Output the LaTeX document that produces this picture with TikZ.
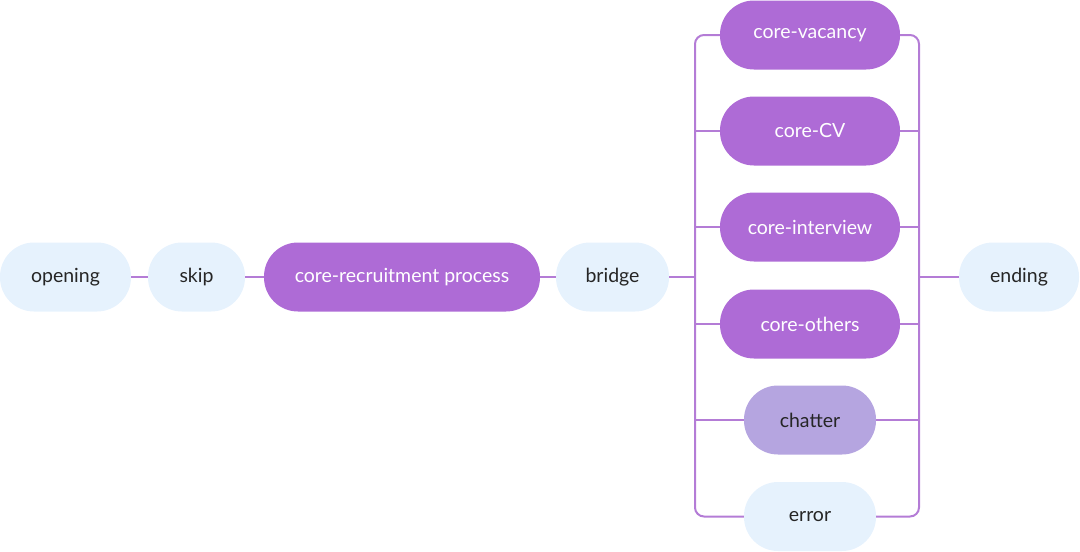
\documentclass[tikz,border=0pt]{standalone}
\usepackage{fontspec}
\setmainfont{Lato}
\definecolor{lightb}{HTML}{E6F2FD}
\definecolor{corep}{HTML}{AE6BD6}
\definecolor{chatc}{HTML}{B5A5E0}
\definecolor{linec}{HTML}{B47CD6}
\begin{document}
\begin{tikzpicture}[x=1pt,y=-1pt,
  pill/.style={rectangle,rounded corners=34pt,minimum height=69pt,inner sep=0pt,font=\fontsize{19.5}{23}\selectfont},
  lightpill/.style={pill,fill=lightb,text=black!85},
  corepill/.style={pill,fill=corep,text=white},
  chatpill/.style={pill,fill=chatc,text=black!85},
  conn/.style={draw=linec,line width=2pt}]
\useasboundingbox (0,0) rectangle (1080,552);
\node[lightpill,minimum width=131pt] (opening) at (65.5,277) {opening};
\node[lightpill,minimum width=97pt] (skip) at (196.5,277) {skip};
\node[corepill,minimum width=276pt] (recruit) at (402,277) {core-recruitment process};
\node[lightpill,minimum width=113pt] (bridge) at (612.5,277) {bridge};
\node[corepill,minimum width=180pt] (vacancy) at (810,35) {core-vacancy};
\node[corepill,minimum width=180pt] (cv) at (810,131) {core-CV};
\node[corepill,minimum width=180pt] (interview) at (810,227) {core-interview};
\node[corepill,minimum width=180pt] (others) at (810,324) {core-others};
\node[chatpill,minimum width=132pt] (chatter) at (810,420) {chatter};
\node[lightpill,minimum width=132pt] (error) at (810,516.5) {error};
\node[lightpill,minimum width=120pt] (ending) at (1019,277) {ending};
\coordinate (L) at (695,277);
\coordinate (R) at (919,277);
\draw[conn] (opening.east) -- (skip.west);
\draw[conn] (skip.east) -- (recruit.west);
\draw[conn] (recruit.east) -- (bridge.west);
\draw[conn] (bridge.east) -- (L);
\draw[conn,rounded corners=9pt] (vacancy.west) -| (L |- error) -- (error.west);
\draw[conn,rounded corners=9pt] (vacancy.east) -| (R |- error) -- (error.east);
\foreach \n in {cv,interview,others,chatter}{
  \draw[conn] (\n.west) -- (\n.west -| L);
  \draw[conn] (\n.east) -- (\n.east -| R);
}
\draw[conn] (R) -- (ending.west);
\end{tikzpicture}
\end{document}
